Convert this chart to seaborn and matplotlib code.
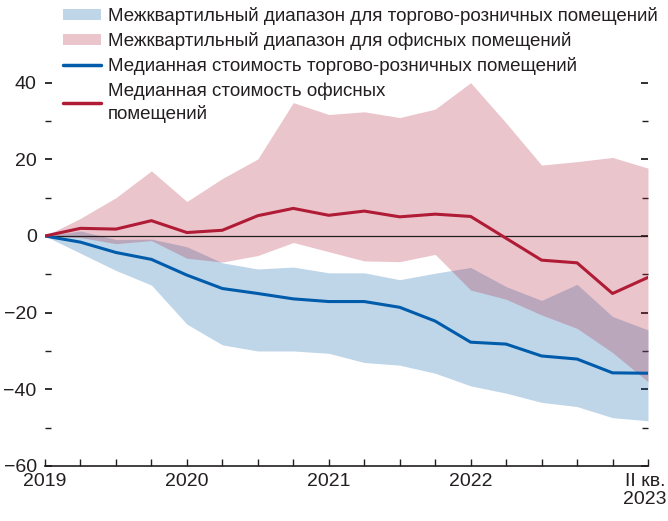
import matplotlib
matplotlib.use("Agg")
import matplotlib.pyplot as plt
import matplotlib.transforms as mtransforms
from matplotlib.patches import Patch
from matplotlib.lines import Line2D
from matplotlib.ticker import FixedLocator
import seaborn as sns
import pandas as pd

# ── Data (quarterly, 2019 Q1 = 0) ───────────────────────
quarters = list(range(18))
retail_median = [0, -1.6, -4.3, -6.1, -10.2, -13.7, -15.0, -16.4, -17.1,
                 -17.1, -18.6, -22.2, -27.7, -28.2, -31.3, -32.1, -35.7, -35.8]
office_median = [0, 2.0, 1.8, 4.0, 0.9, 1.5, 5.3, 7.2, 5.4,
                 6.5, 5.0, 5.7, 5.1, -0.6, -6.3, -7.0, -15.0, -10.8]
retail_upper = [0, 1.3, -0.9, -0.8, -2.8, -7.0, -8.6, -8.1, -9.6,
                -9.6, -11.4, -9.7, -8.2, -13.2, -16.8, -12.6, -21.0, -24.5]
retail_lower = [0, -4.5, -9.0, -12.8, -23.0, -28.4, -30.0, -30.0, -30.6,
                -33.0, -33.7, -35.8, -39.1, -41.0, -43.4, -44.5, -47.4, -48.2]
office_upper = [0, 4.6, 10.0, 17.0, 9.0, 15.0, 20.1, 34.8, 31.7,
                32.4, 30.9, 33.1, 40.0, 29.5, 18.5, 19.4, 20.5, 17.7]
office_lower = [0, -0.4, -2.0, -1.2, -5.8, -6.8, -5.1, -1.7, -4.1,
                -6.5, -6.7, -4.8, -14.1, -16.5, -20.6, -24.1, -30.4, -38.0]

tick_pos = [0, 4, 8, 12, 17]
tick_labels = ["2019", "2020", "2021", "2022", "II кв.\n2023"]

labels = [
    "Межквартильный диапазон для торгово-розничных помещений",
    "Межквартильный диапазон для офисных помещений",
    "Медианная стоимость торгово-розничных помещений",
    "Медианная стоимость офисных\nпомещений",
]

BLUE = "#005CAB"
RED = "#B01B35"
INK = "#231f20"

sns.set_theme(style="white")
plt.rcParams["font.family"] = ["Liberation Sans", "DejaVu Sans"]
plt.rcParams["text.color"] = INK

df = pd.DataFrame({"q": quarters, "retail": retail_median, "office": office_median})

fig = plt.figure(figsize=(6.68, 5.21), dpi=100)
W, H = 668, 521
ax = fig.add_axes([45 / W, (H - 466) / H, 603 / W, 466 / H])

# ── Bands ───────────────────────────────────────────────
ax.fill_between(quarters, retail_lower, retail_upper, color=BLUE, alpha=0.25, lw=0, zorder=1)
ax.fill_between(quarters, office_lower, office_upper, color=RED, alpha=0.25, lw=0, zorder=2)
ax.axhline(0, color=INK, lw=0.9, zorder=3)

# ── Median lines ───────────────────────────────────────
sns.lineplot(data=df, x="q", y="retail", ax=ax, color=BLUE, lw=2.2, zorder=4)
sns.lineplot(data=df, x="q", y="office", ax=ax, color=RED, lw=2.2, zorder=4)

ax.set_xlim(0, 17)
ax.set_ylim(-60, 236 / (230 / 60))
ax.set_xlabel("")
ax.set_ylabel("")

# ── Axes styling ───────────────────────────────────────
for s in ["left", "right", "top"]:
    ax.spines[s].set_visible(False)
ax.spines["bottom"].set_color(INK)
ax.spines["bottom"].set_linewidth(1.2)

ax.set_xticks(quarters)
ax.set_xticklabels([tick_labels[tick_pos.index(q)] if q in tick_pos else "" for q in quarters],
                   linespacing=1.05)
ax.tick_params(axis="x", direction="in", length=5, width=1, color=INK,
               pad=5, labelsize=14, bottom=True, labelcolor=INK)
# last label sits on the right edge: nudge it a little to the left
last = ax.get_xticklabels()[-1]
last.set_transform(last.get_transform() + mtransforms.ScaledTranslation(-3 / 100, 0, fig.dpi_scale_trans))

ax.yaxis.set_major_locator(FixedLocator([-60, -40, -20, 0, 20, 40]))
ax.yaxis.set_minor_locator(FixedLocator([-50, -30, -10, 10, 30]))
ax.set_yticklabels(["\u221260", "\u221240", "\u221220", "0", "20", "40"])
ax.tick_params(axis="y", which="major", direction="in", length=5, width=1.3,
               color=INK, left=True, right=True, labelleft=True,
               labelright=False, pad=6, labelsize=14, labelcolor=INK)
ax.tick_params(axis="y", which="minor", direction="in", length=4, width=1,
               color=INK, left=True, right=True)
ax.grid(False)

# ── Legend ─────────────────────────────────────────────
handles = [
    Patch(facecolor=BLUE, alpha=0.25, edgecolor="none"),
    Patch(facecolor=RED, alpha=0.25, edgecolor="none"),
    Line2D([], [], color=BLUE, lw=2.5),
    Line2D([], [], color=RED, lw=2.5),
]
leg = ax.legend(handles, labels, loc="upper left", bbox_to_anchor=(18 / 603, 1 - 7 / 466),
                frameon=False, borderaxespad=0, borderpad=0, handlelength=2.05,
                handleheight=0.55, handletextpad=0.33, labelspacing=0.38, fontsize=13.5)
leg.get_texts()[3].set_linespacing(1.35)

plt.savefig("out.png", dpi=100)
plt.close()
